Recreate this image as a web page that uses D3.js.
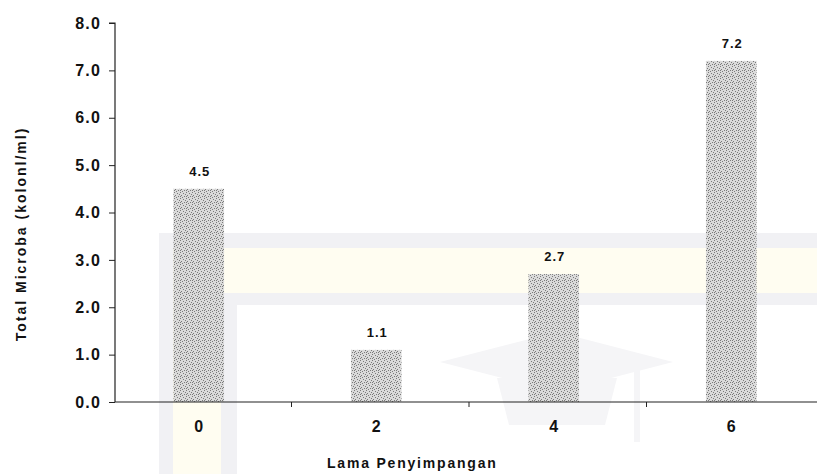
<!DOCTYPE html>
<html>
<head>
<meta charset="utf-8">
<script src="https://cdn.jsdelivr.net/npm/d3@7"></script>
<style>
  body { margin: 0; background: #fff; }
  svg { display: block; }
  text { font-family: "Liberation Sans", Arial, sans-serif; font-weight: bold; fill: #111; }
</style>
</head>
<body>
<svg id="chart" width="817" height="474"></svg>
<script>
const categories = ["0", "2", "4", "6"];
const values = [4.5, 1.1, 2.7, 7.2];
const valueLabels = ["4.5", "1.1", "2.7", "7.2"];
const yTicks = [0, 1, 2, 3, 4, 5, 6, 7, 8];
const xTitle = "Lama Penyimpangan";
const yTitle = "Total Microba (kolonl/ml)";

const svg = d3.select("#chart");
const W = 817, H = 474;
const axisX = 115, baseY = 402, topY = 23;

// stipple pattern for bars
const defs = svg.append("defs");
const pat = defs.append("pattern").attr("id", "stip").attr("patternUnits", "userSpaceOnUse")
  .attr("width", 6).attr("height", 6);
pat.append("rect").attr("width", 6).attr("height", 6).attr("fill", "#dadada");
[[0,0],[3,1],[1,3],[4,4],[2,5],[5,2],[0,4]].forEach(([px,py]) =>
  pat.append("rect").attr("x", px).attr("y", py).attr("width", 1).attr("height", 1).attr("fill", "#7a7a7a"));

// faint watermark (background decoration)
const wm = svg.append("g");
wm.append("rect").attr("x", 159).attr("y", 233).attr("width", W - 159).attr("height", 72).attr("fill", "#f1f1f4");
wm.append("rect").attr("x", 159).attr("y", 233).attr("width", 78).attr("height", H - 233).attr("fill", "#f1f1f4");
wm.append("rect").attr("x", 173).attr("y", 248).attr("width", W - 173).attr("height", 45).attr("fill", "#fffdf1");
wm.append("rect").attr("x", 173).attr("y", 248).attr("width", 48).attr("height", H - 248).attr("fill", "#fffdf1");
wm.append("polygon").attr("points", "440,362 557,332 673,362 557,392").attr("fill", "#f5f5f7");
wm.append("polygon").attr("points", "497,378 617,378 605,425 509,425").attr("fill", "#f5f5f7");
wm.append("rect").attr("x", 634).attr("y", 362).attr("width", 6).attr("height", 80).attr("fill", "#f5f5f7");

const x = d3.scaleBand().domain(categories).range([110, 820]).paddingInner(0).paddingOuter(0);
const y = d3.scaleLinear().domain([0, 8]).range([baseY, topY]);
const barW = x.bandwidth() * 0.285;

// bars
svg.append("g").selectAll("rect").data(values).join("rect")
  .attr("x", (d, i) => x(categories[i]) + x.bandwidth() / 2 - barW / 2)
  .attr("y", d => y(d))
  .attr("width", barW)
  .attr("height", d => baseY - y(d))
  .attr("fill", "url(#stip)");

// value labels
svg.append("g").selectAll("text").data(values).join("text")
  .attr("x", (d, i) => x(categories[i]) + x.bandwidth() / 2 + 1)
  .attr("y", d => y(d) - 13)
  .attr("text-anchor", "middle")
  .style("font-size", "13px").style("letter-spacing", "1px")
  .text((d, i) => valueLabels[i]);

// y axis
const yAxis = d3.axisLeft(y).tickValues(yTicks).tickFormat(d3.format(".1f")).tickSize(6).tickPadding(8);
const gy = svg.append("g").attr("transform", `translate(${axisX},0)`).call(yAxis);
gy.select(".domain").attr("stroke", "#222").attr("stroke-width", 1.2).attr("d", `M-6,${topY}H0V${baseY}`);
gy.selectAll(".tick line").attr("stroke", "#222");
gy.selectAll(".tick text").style("font-size", "16px").style("letter-spacing", "1.2px")
  .style("font-family", "'Liberation Sans', Arial, sans-serif").style("font-weight", "bold").attr("fill", "#111");

// x axis
const xAxis = d3.axisBottom(x).tickSize(0).tickPadding(19);
const gx = svg.append("g").attr("transform", `translate(0,${baseY})`).call(xAxis);
gx.select(".domain").attr("stroke", "#222").attr("stroke-width", 1.2).attr("d", `M${axisX},0H${W}`);
gx.selectAll(".tick text").style("font-size", "16px")
  .style("font-family", "'Liberation Sans', Arial, sans-serif").style("font-weight", "bold").attr("fill", "#111");
// category boundary ticks
svg.append("g").selectAll("line").data(categories.slice(1)).join("line")
  .attr("x1", d => x(d) + 4).attr("x2", d => x(d) + 4)
  .attr("y1", baseY).attr("y2", baseY + 5)
  .attr("stroke", "#222");

// axis titles
svg.append("text").attr("x", 327).attr("y", 468)
  .style("font-size", "14px").style("letter-spacing", "1.8px")
  .text(xTitle);
svg.append("text").attr("transform", "translate(26,234) rotate(-90)")
  .attr("text-anchor", "middle")
  .style("font-size", "14px").style("letter-spacing", "2px")
  .text(yTitle);
</script>
</body>
</html>
